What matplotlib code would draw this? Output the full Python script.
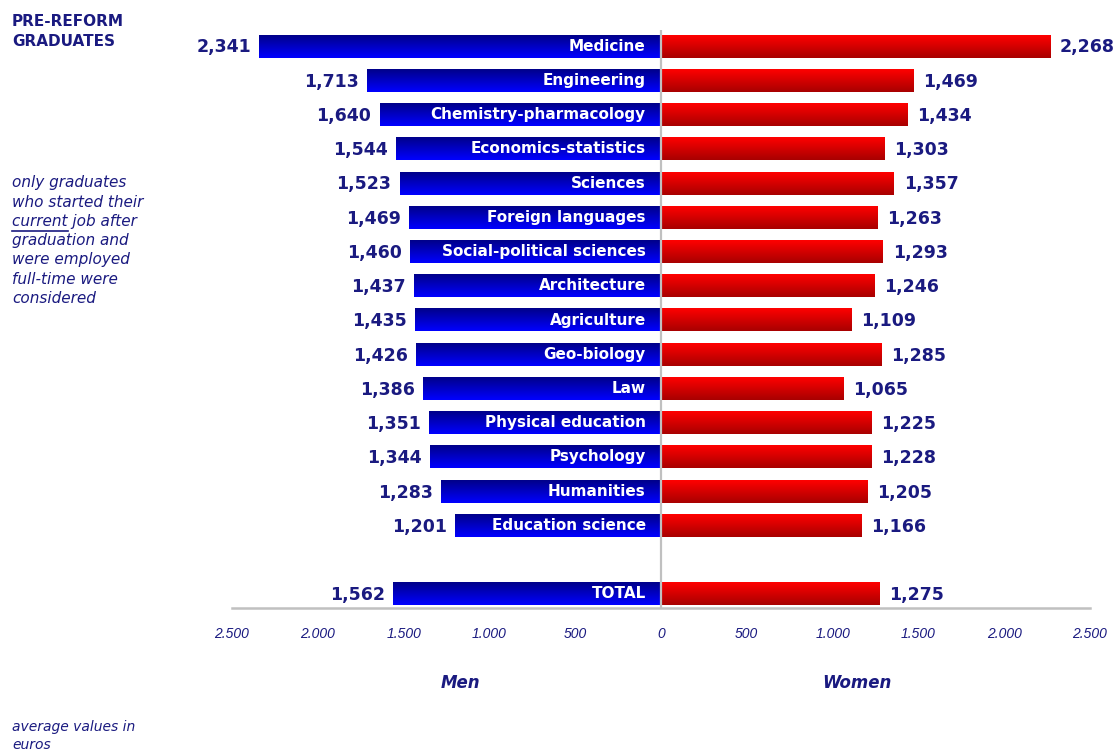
import numpy as np
import matplotlib
matplotlib.use('Agg')
import matplotlib.pyplot as plt
from matplotlib.colors import LinearSegmentedColormap
from matplotlib.lines import Line2D

plt.rcParams['font.family'] = ['DejaVu Sans']

# data
categories = ['Medicine', 'Engineering', 'Chemistry-pharmacology', 'Economics-statistics',
              'Sciences', 'Foreign languages', 'Social-political sciences', 'Architecture',
              'Agriculture', 'Geo-biology', 'Law', 'Physical education', 'Psychology',
              'Humanities', 'Education science', 'TOTAL']
men = [2341, 1713, 1640, 1544, 1523, 1469, 1460, 1437, 1435, 1426, 1386, 1351, 1344, 1283, 1201, 1562]
women = [2268, 1469, 1434, 1303, 1357, 1263, 1293, 1246, 1109, 1285, 1065, 1225, 1228, 1205, 1166, 1275]
ticks = [-2500, -2000, -1500, -1000, -500, 0, 500, 1000, 1500, 2000, 2500]

navy = '#1a1a80'
pos = list(range(15)) + [16]
h = 0.67

fig = plt.figure(figsize=(11.16, 7.51), dpi=100)
ax = fig.add_axes([232/1116, 143/751, 858/1116, 578/751])

blue_cm = LinearSegmentedColormap.from_list('b', ['#00008a', '#0000ff'])
red_cm = LinearSegmentedColormap.from_list('r', ['#ff0000', '#a80000'])
grad = np.linspace(0, 1, 64).reshape(-1, 1)

bars_m = ax.barh(pos, [-v for v in men], height=h, color='none', edgecolor='none')
bars_w = ax.barh(pos, women, height=h, color='none', edgecolor='none')
for bars, cm in [(bars_m, blue_cm), (bars_w, red_cm)]:
    for b in bars:
        x0, y0 = b.get_x(), b.get_y()
        w, hh = b.get_width(), b.get_height()
        ax.imshow(grad, cmap=cm, aspect='auto', interpolation='bilinear',
                  extent=(x0, x0 + w, y0 + hh, y0), zorder=2)

for p, c, m, w in zip(pos, categories, men, women):
    ax.annotate(c, (0, p), xytext=(-11, 0), textcoords='offset points', ha='right', va='center',
                color='white', fontsize=11, fontweight='bold', zorder=4)
    ax.annotate(f'{m:,}', (-m, p), xytext=(-6, -1), textcoords='offset points', ha='right',
                va='center', color=navy, fontsize=12.5, fontweight='bold')
    ax.annotate(f'{w:,}', (w, p), xytext=(7, -1), textcoords='offset points', ha='left',
                va='center', color=navy, fontsize=12.5, fontweight='bold')

ax.set_xlim(-2500, 2500)
ax.set_ylim(16.41, -0.47)
ax.axvline(0, color='#c0c0c0', lw=1.6, zorder=3)
for s in ['top', 'right', 'left']:
    ax.spines[s].set_visible(False)
ax.spines['bottom'].set_color('#c0c0c0')
ax.spines['bottom'].set_linewidth(1.8)
ax.set_yticks([])
ax.set_xticks(ticks)
ax.set_xticklabels([f'{abs(t):,}'.replace(',', '.') for t in ticks],
                   fontstyle='italic', color=navy, fontsize=10, fontfamily='Liberation Sans')
ax.tick_params(axis='x', length=0, pad=14)

fig.text(460/1116, 1 - 683/751, 'Men', ha='center', va='center', color=navy,
         fontsize=12, fontweight='bold', fontstyle='italic')
fig.text(857/1116, 1 - 683/751, 'Women', ha='center', va='center', color=navy,
         fontsize=12, fontweight='bold', fontstyle='italic')

fig.text(12/1116, 1 - 22/751, 'PRE-REFORM', ha='left', va='center', color=navy,
         fontsize=11, fontweight='bold')
fig.text(12/1116, 1 - 41/751, 'GRADUATES', ha='left', va='center', color=navy,
         fontsize=11, fontweight='bold')

note = ['only graduates', 'who started their', 'current job after', 'graduation and',
        'were employed', 'full-time were', 'considered']
for i, line in enumerate(note):
    fig.text(12/1116, 1 - (183 + i * 19.2)/751, line, ha='left', va='center', color=navy,
             fontsize=11, fontstyle='italic')

# underline "current"
fig.canvas.draw()
r = fig.canvas.get_renderer()
tmp = fig.text(12/1116, 1 - 221.4/751, 'current', ha='left', va='center', fontsize=11,
               fontstyle='italic')
bb = tmp.get_window_extent(r)
tmp.remove()
yl = 1 - 230.5/751
fig.add_artist(Line2D([bb.x0/1116, bb.x1/1116], [yl, yl], transform=fig.transFigure,
                      color=navy, lw=1.2))

fig.text(12/1116, 1 - 727/751, 'average values in', ha='left', va='center', color=navy,
         fontsize=10, fontstyle='italic')
fig.text(12/1116, 1 - 745/751, 'euros', ha='left', va='center', color=navy,
         fontsize=10, fontstyle='italic')

fig.savefig('out.png', dpi=100)
